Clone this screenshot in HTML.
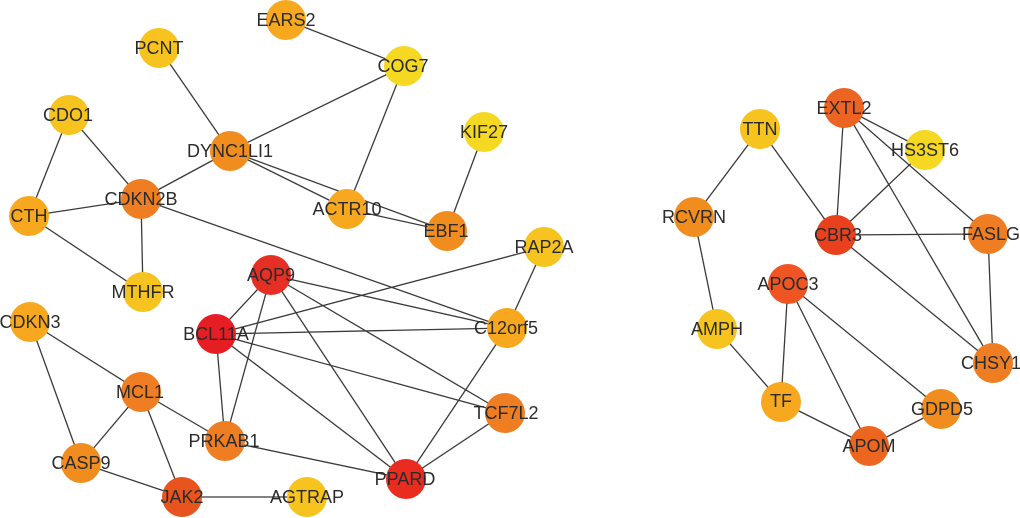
<!DOCTYPE html>
<html><head><meta charset="utf-8"><style>
html,body{margin:0;padding:0;background:#fff}
svg{display:block}
text{font-family:"Liberation Sans",sans-serif;font-size:18px;fill:#2b2b2b;text-anchor:middle}
line{stroke:#3a3a3a;stroke-width:1.3}
</style></head><body>
<svg width="1020" height="518" viewBox="0 0 1020 518" xmlns="http://www.w3.org/2000/svg">
<rect width="1020" height="518" fill="#fff"/>
<g>
<line x1="286" y1="20" x2="404" y2="66"/>
<line x1="159" y1="48" x2="230" y2="151"/>
<line x1="404" y1="66" x2="230" y2="151"/>
<line x1="404" y1="66" x2="347" y2="209"/>
<line x1="484" y1="132" x2="447" y2="231"/>
<line x1="230" y1="151" x2="347" y2="209"/>
<line x1="230" y1="151" x2="447" y2="231"/>
<line x1="347" y1="209" x2="447" y2="231"/>
<line x1="230" y1="151" x2="141" y2="199"/>
<line x1="69" y1="115" x2="141" y2="199"/>
<line x1="69" y1="115" x2="29" y2="216"/>
<line x1="29" y1="216" x2="141" y2="199"/>
<line x1="29" y1="216" x2="143" y2="292"/>
<line x1="141" y1="199" x2="143" y2="292"/>
<line x1="141" y1="199" x2="507" y2="328"/>
<line x1="544" y1="247" x2="216" y2="334"/>
<line x1="544" y1="247" x2="507" y2="328"/>
<line x1="271" y1="275" x2="507" y2="328"/>
<line x1="271" y1="275" x2="216" y2="334"/>
<line x1="271" y1="275" x2="505" y2="413"/>
<line x1="271" y1="275" x2="406" y2="479"/>
<line x1="271" y1="275" x2="225" y2="441"/>
<line x1="216" y1="334" x2="507" y2="328"/>
<line x1="216" y1="334" x2="505" y2="413"/>
<line x1="216" y1="334" x2="406" y2="479"/>
<line x1="216" y1="334" x2="225" y2="441"/>
<line x1="507" y1="328" x2="406" y2="479"/>
<line x1="505" y1="413" x2="406" y2="479"/>
<line x1="225" y1="441" x2="406" y2="479"/>
<line x1="141" y1="392" x2="225" y2="441"/>
<line x1="141" y1="392" x2="30" y2="322"/>
<line x1="141" y1="392" x2="81" y2="463"/>
<line x1="141" y1="392" x2="182" y2="497"/>
<line x1="30" y1="322" x2="81" y2="463"/>
<line x1="81" y1="463" x2="182" y2="497"/>
<line x1="182" y1="497" x2="307" y2="497"/>
<line x1="760" y1="129" x2="694" y2="217"/>
<line x1="760" y1="129" x2="836" y2="235"/>
<line x1="694" y1="217" x2="717" y2="329"/>
<line x1="717" y1="329" x2="781" y2="402"/>
<line x1="844" y1="108" x2="925" y2="150"/>
<line x1="844" y1="108" x2="836" y2="235"/>
<line x1="844" y1="108" x2="988" y2="234"/>
<line x1="844" y1="108" x2="993" y2="363"/>
<line x1="925" y1="150" x2="836" y2="235"/>
<line x1="836" y1="235" x2="988" y2="234"/>
<line x1="836" y1="235" x2="993" y2="363"/>
<line x1="988" y1="234" x2="993" y2="363"/>
<line x1="788" y1="284" x2="781" y2="402"/>
<line x1="788" y1="284" x2="869" y2="446"/>
<line x1="788" y1="284" x2="941" y2="409"/>
<line x1="781" y1="402" x2="869" y2="446"/>
<line x1="869" y1="446" x2="941" y2="409"/>
</g>
<g>
<circle cx="286" cy="20" r="20" fill="#f7a81e"/>
<circle cx="159" cy="48" r="20" fill="#f6c31f"/>
<circle cx="404" cy="66" r="20" fill="#f5d821"/>
<circle cx="69" cy="115" r="20" fill="#f6c31f"/>
<circle cx="484" cy="132" r="20" fill="#f5d821"/>
<circle cx="230" cy="151" r="20" fill="#f18c1f"/>
<circle cx="141" cy="199" r="20" fill="#ef7d22"/>
<circle cx="29" cy="216" r="20" fill="#f7a81e"/>
<circle cx="347" cy="209" r="20" fill="#f7a81e"/>
<circle cx="447" cy="231" r="20" fill="#f18c1f"/>
<circle cx="544" cy="247" r="20" fill="#f6c31f"/>
<circle cx="143" cy="292" r="20" fill="#f6c31f"/>
<circle cx="271" cy="275" r="20" fill="#e52e24"/>
<circle cx="216" cy="334" r="20" fill="#e71d24"/>
<circle cx="507" cy="328" r="20" fill="#f7a81e"/>
<circle cx="30" cy="322" r="20" fill="#f7a81e"/>
<circle cx="141" cy="392" r="20" fill="#ef7d22"/>
<circle cx="505" cy="413" r="20" fill="#ef7d22"/>
<circle cx="225" cy="441" r="20" fill="#ef7d22"/>
<circle cx="81" cy="463" r="20" fill="#f18c1f"/>
<circle cx="406" cy="479" r="20" fill="#e92b20"/>
<circle cx="182" cy="497" r="20" fill="#e8541e"/>
<circle cx="307" cy="497" r="20" fill="#f6c31f"/>
<circle cx="844" cy="108" r="20" fill="#ec6422"/>
<circle cx="760" cy="129" r="20" fill="#f6c31f"/>
<circle cx="925" cy="150" r="20" fill="#f5d821"/>
<circle cx="694" cy="217" r="20" fill="#f18c1f"/>
<circle cx="836" cy="235" r="20" fill="#e9411e"/>
<circle cx="988" cy="234" r="20" fill="#ef7d22"/>
<circle cx="788" cy="284" r="20" fill="#ee5522"/>
<circle cx="717" cy="329" r="20" fill="#f6c31f"/>
<circle cx="993" cy="363" r="20" fill="#ef7d22"/>
<circle cx="781" cy="402" r="20" fill="#f7a81e"/>
<circle cx="941" cy="409" r="20" fill="#f18c1f"/>
<circle cx="869" cy="446" r="20" fill="#ec6620"/>
</g>
<g>
<text x="286" y="26">EARS2</text>
<text x="159" y="54">PCNT</text>
<text x="403" y="72">COG7</text>
<text x="68" y="121">CDO1</text>
<text x="484" y="138">KIF27</text>
<text x="230" y="157">DYNC1LI1</text>
<text x="141" y="205">CDKN2B</text>
<text x="29" y="222">CTH</text>
<text x="347" y="215">ACTR10</text>
<text x="446" y="237">EBF1</text>
<text x="544" y="253">RAP2A</text>
<text x="143" y="298">MTHFR</text>
<text x="271" y="281">AQP9</text>
<text x="216" y="340">BCL11A</text>
<text x="506" y="334">C12orf5</text>
<text x="30" y="328">CDKN3</text>
<text x="140" y="398">MCL1</text>
<text x="506" y="419">TCF7L2</text>
<text x="224" y="447">PRKAB1</text>
<text x="81" y="469">CASP9</text>
<text x="405" y="485">PPARD</text>
<text x="182" y="503">JAK2</text>
<text x="307" y="503">AGTRAP</text>
<text x="844" y="114">EXTL2</text>
<text x="760" y="135">TTN</text>
<text x="925" y="156">HS3ST6</text>
<text x="694" y="223">RCVRN</text>
<text x="838" y="241">CBR3</text>
<text x="991" y="240">FASLG</text>
<text x="788" y="290">APOC3</text>
<text x="717" y="335">AMPH</text>
<text x="991" y="369">CHSY1</text>
<text x="781" y="407">TF</text>
<text x="942" y="415">GDPD5</text>
<text x="869" y="452">APOM</text>
</g>
</svg>
</body></html>
